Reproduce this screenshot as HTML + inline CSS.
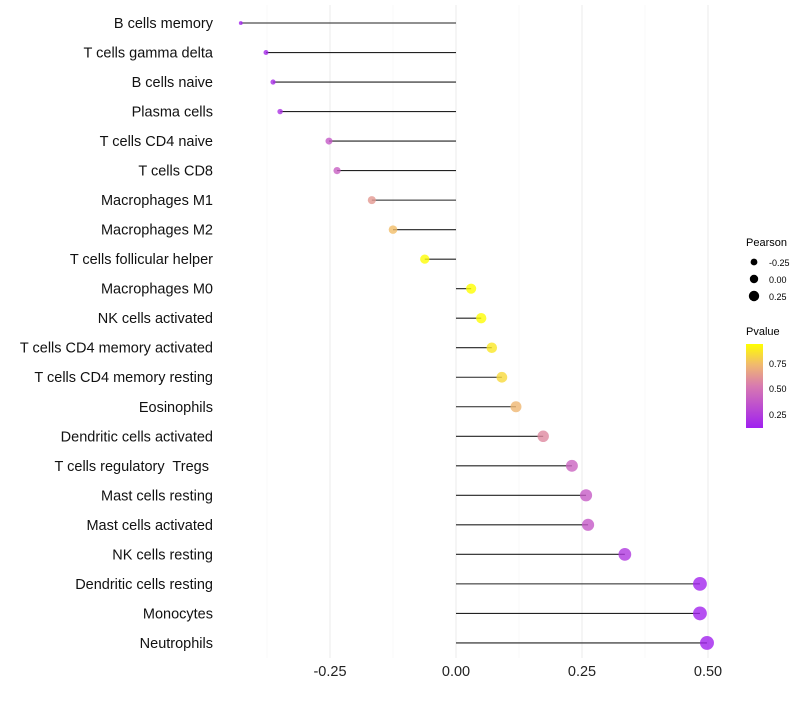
<!DOCTYPE html>
<html><head><meta charset="utf-8"><style>
body{margin:0;background:#fff;font-family:"Liberation Sans",sans-serif}
text{white-space:pre}
</style></head><body>
<svg id="c" width="800" height="700" xmlns="http://www.w3.org/2000/svg">
<defs><linearGradient id="pg" x1="0" y1="1" x2="0" y2="0">
<stop offset="0" stop-color="#a020f0"/><stop offset="0.5" stop-color="#d87ab0"/><stop offset="0.75" stop-color="#f0b870"/><stop offset="1" stop-color="#ffff00"/>
</linearGradient></defs>
<g id="grid"></g><g id="marks"></g><g id="labels"></g>
<g font-size="10">
<text x="746" y="246" font-size="11">Pearson</text>
<circle cx="754" cy="262" r="3.4"/><text x="769" y="266" font-size="9">-0.25</text>
<circle cx="754" cy="279" r="4.2"/><text x="769" y="283" font-size="9">0.00</text>
<circle cx="754" cy="296" r="5.2"/><text x="769" y="300" font-size="9">0.25</text>
</g>
<g>
<text x="746" y="335" font-size="11">Pvalue</text>
<rect x="746" y="344" width="17" height="84" fill="url(#pg)"/>
<text x="769" y="367" font-size="9">0.75</text>
<text x="769" y="392" font-size="9">0.50</text>
<text x="769" y="418" font-size="9">0.25</text>
</g>
</svg>
<script>
const categories=["B cells memory","T cells gamma delta","B cells naive","Plasma cells","T cells CD4 naive","T cells CD8","Macrophages M1","Macrophages M2","T cells follicular helper","Macrophages M0","NK cells activated","T cells CD4 memory activated","T cells CD4 memory resting","Eosinophils","Dendritic cells activated","T cells regulatory  Tregs ","Mast cells resting","Mast cells activated","NK cells resting","Dendritic cells resting","Monocytes","Neutrophils"];
const pearson=[-0.427,-0.377,-0.363,-0.349,-0.252,-0.236,-0.167,-0.125,-0.062,0.030,0.050,0.071,0.091,0.119,0.173,0.230,0.258,0.262,0.335,0.484,0.484,0.498];
const pvalue=[0.12,0.15,0.17,0.19,0.37,0.40,0.62,0.74,0.92,0.93,0.92,0.86,0.82,0.72,0.57,0.42,0.38,0.37,0.22,0.13,0.13,0.12];
const xTicks=[-0.25,0,0.25,0.5];
const xTickLabels=["-0.25","0.00","0.25","0.50"];
const NS="http://www.w3.org/2000/svg";
const x=v=>456+v*504;
const y=i=>23+i*29.52;
function col(p){const t=Math.max(0,Math.min(1,(p-0.11)/0.82));
const st=[[0,[160,32,240]],[0.5,[216,122,176]],[0.75,[240,184,112]],[1,[255,255,0]]];
for(let k=1;k<st.length;k++){if(t<=st[k][0]){const a=st[k-1],b=st[k],f=(t-a[0])/(b[0]-a[0]);return 'rgb('+a[1].map((c,j)=>Math.round(c+(b[1][j]-c)*f)).join(',')+')';}}return 'rgb(255,255,0)';}
const rad=v=>Math.sqrt(Math.max(1,3.6+(v+0.43)*48.5));
function mk(tag,at,parent){const e=document.createElementNS(NS,tag);for(const k in at)e.setAttribute(k,at[k]);document.getElementById(parent).appendChild(e);return e;}
[-0.375,-0.125,0.125,0.375].forEach(v=>{const l=mk('line',{x1:x(v),x2:x(v),y1:5,y2:658,stroke:'#f3f3f3','stroke-width':0.6},'grid');

});
xTicks.forEach((v,i)=>{const l=mk('line',{x1:x(v),x2:x(v),y1:5,y2:658,stroke:'#ebebeb','stroke-width':1},'grid');


const t=mk('text',{x:x(v),y:676,'text-anchor':'middle','font-size':14.5,fill:'#222'},'labels');t.textContent=xTickLabels[i];

});
categories.forEach((c,i)=>{const yy=y(i);
const s=mk('line',{x1:x(0),x2:x(pearson[i]),y1:yy,y2:yy,stroke:'#222','stroke-width':1.1},'marks');


const d=mk('circle',{cx:x(pearson[i]),cy:yy,r:rad(pearson[i]),fill:col(pvalue[i]),'fill-opacity':0.8},'marks');


const t=mk('text',{x:213,y:yy+5,'text-anchor':'end','font-size':14.5,fill:'#111'},'labels');t.textContent=c;

});
</script>
</body></html>
